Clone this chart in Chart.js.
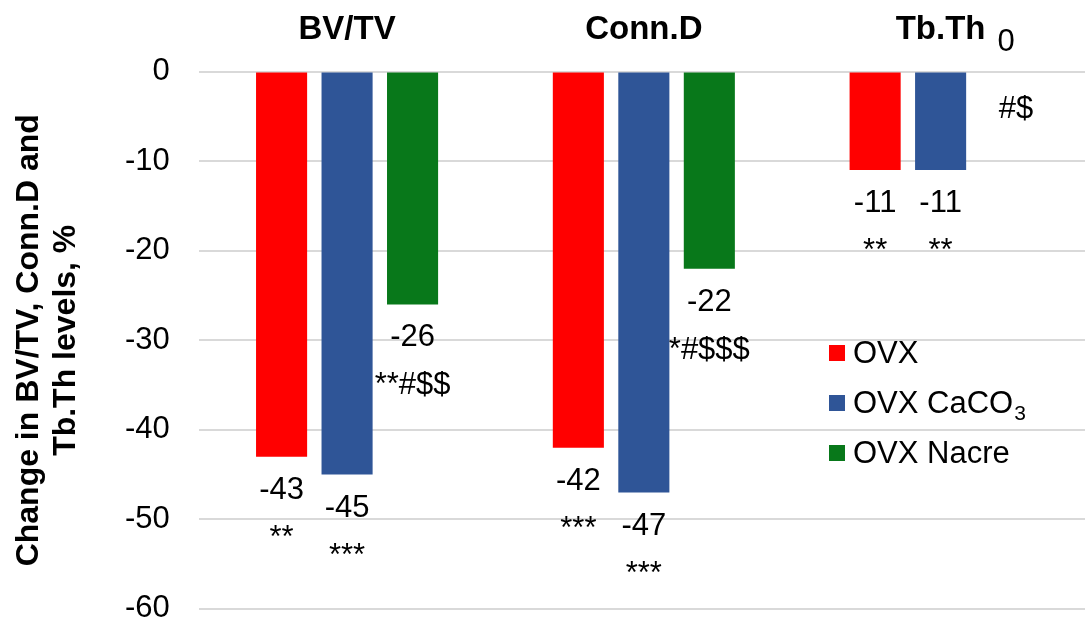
<!DOCTYPE html>
<html>
<head>
<meta charset="utf-8">
<script src="https://cdn.jsdelivr.net/npm/chart.js@4.4.1/dist/chart.umd.min.js"></script>
<style>
  html, body { margin: 0; padding: 0; background: #fff; overflow: hidden; }
  #wrap { width: 1089px; height: 626px; position: relative; }
</style>
</head>
<body>
<div id="wrap"><canvas id="barChart"></canvas></div>
<script>
// categories along the top axis
var categories = ["BV/TV", "Conn.D", "Tb.Th"];

// change in levels (%) for each group
var ovxValues = [-43, -42, -11];
var caco3Values = [-45, -47, -11];
var nacreValues = [-26, -22, 0];

// significance marks printed under the value labels
var ovxSig = ["**", "***", "**"];
var caco3Sig = ["***", "***", "**"];
var nacreSig = ["**#$$", "*#$$$", "#$"];

var yTicks = [0, -10, -20, -30, -40, -50, -60];

var FONT = "'Liberation Sans', Arial, sans-serif";
var sigMarks = [ovxSig, caco3Sig, nacreSig];

// value + significance labels under each bar
var barLabels = {
  id: "barLabels",
  afterDatasetsDraw: function(chart) {
    var ctx = chart.ctx;
    var top = chart.chartArea.top;
    ctx.save();
    ctx.fillStyle = "#000";
    ctx.textAlign = "center";
    ctx.textBaseline = "alphabetic";
    chart.data.datasets.forEach(function(ds, i) {
      var meta = chart.getDatasetMeta(i);
      meta.data.forEach(function(bar, j) {
        var v = ds.data[j];
        ctx.font = "31px " + FONT;
        if (v === 0) {
          ctx.fillText(String(v), bar.x, top - 21);
          ctx.fillText(sigMarks[i][j], bar.x + 10, top + 46);
        } else {
          ctx.fillText(String(v), bar.x, bar.y + 42);
          ctx.fillText(sigMarks[i][j], bar.x, bar.y + 90);
        }
      });
    });
    ctx.restore();
  }
};

// legend drawn inside the plot, lower right
var innerLegend = {
  id: "innerLegend",
  afterDraw: function(chart) {
    var ctx = chart.ctx;
    var x = 829, y0 = 353, step = 50;
    ctx.save();
    ctx.textBaseline = "middle";
    ctx.textAlign = "left";
    chart.data.datasets.forEach(function(ds, i) {
      var y = y0 + i * step;
      ctx.fillStyle = ds.backgroundColor;
      ctx.fillRect(x, y - 8, 16, 16);
      ctx.fillStyle = "#000";
      ctx.font = "31px " + FONT;
      var lbl = ds.label;
      if (lbl.slice(-3) === "CO3") {
        var main = lbl.slice(0, -1);
        ctx.fillText(main, x + 24, y + 1);
        var w = ctx.measureText(main).width;
        ctx.font = "21px " + FONT;
        ctx.fillText("3", x + 24 + w + 1, y + 11);
      } else {
        ctx.fillText(lbl, x + 24, y + 1);
      }
    });
    ctx.restore();
  }
};

new Chart(document.getElementById("barChart"), {
  type: "bar",
  data: {
    labels: categories,
    datasets: [
      { label: "OVX", data: ovxValues, backgroundColor: "#FF0000" },
      { label: "OVX CaCO3", data: caco3Values, backgroundColor: "#2F5597" },
      { label: "OVX Nacre", data: nacreValues, backgroundColor: "#08781A" }
    ]
  },
  options: {
    responsive: true,
    maintainAspectRatio: false,
    animation: false,
    layout: { padding: { top: -12, bottom: 0, left: 0, right: 0 } },
    datasets: {
      bar: { categoryPercentage: 0.662, barPercentage: 0.78 }
    },
    plugins: {
      legend: { display: false },
      tooltip: { enabled: false },
      title: { display: false }
    },
    scales: {
      x: {
        position: "top",
        grid: { display: false, drawTicks: false },
        border: { display: false },
        ticks: {
          color: "#000",
          padding: 22,
          font: { family: FONT, size: 33, weight: "bold" }
        }
      },
      y: {
        min: -60,
        max: 0,
        afterBuildTicks: function(scale) {
          scale.ticks = yTicks.map(function(v) { return { value: v }; });
        },
        grid: {
          color: "#D9D9D9",
          lineWidth: 2,
          drawTicks: true,
          tickLength: 29,
          tickColor: "rgba(0,0,0,0)"
        },
        border: { display: false },
        ticks: {
          color: "#000",
          padding: 0,
          font: { family: FONT, size: 31, lineHeight: 1.1 }
        },
        title: {
          display: true,
          text: ["Change in BV/TV, Conn.D and", "Tb.Th levels, %"],
          color: "#000",
          font: { family: FONT, size: 32, weight: "bold", lineHeight: 1.17 },
          padding: { top: 10, bottom: 40 }
        }
      }
    }
  },
  plugins: [barLabels, innerLegend]
});
</script>
</body>
</html>
